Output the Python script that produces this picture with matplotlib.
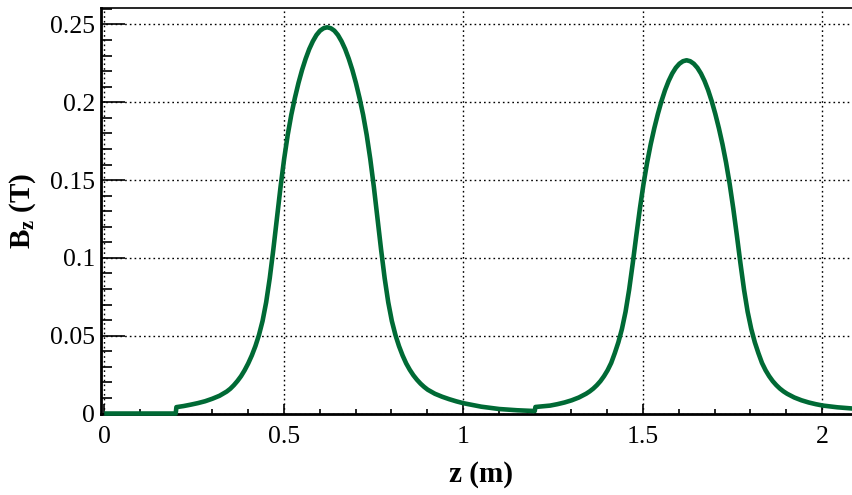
import matplotlib
matplotlib.use("Agg")
import matplotlib.pyplot as plt
from matplotlib.ticker import MultipleLocator

# Field profile: z in metres, Bz in tesla
# region before the first magnet (no field)
z_empty = [0.0, 0.199]
bz_empty = [0.0, 0.0]

# first magnet
z_mag1 = [0.201, 0.221, 0.241, 0.261, 0.281, 0.301, 0.321, 0.341, 0.351, 0.361,
          0.371, 0.381, 0.391, 0.401, 0.411, 0.421, 0.431, 0.441, 0.451, 0.461,
          0.471, 0.481, 0.491, 0.501, 0.511, 0.521, 0.531, 0.541, 0.551, 0.561,
          0.571, 0.581, 0.591, 0.601, 0.611, 0.621, 0.631, 0.641, 0.651, 0.661,
          0.671, 0.681, 0.691, 0.701, 0.711, 0.721, 0.731, 0.741, 0.751, 0.761,
          0.771, 0.781, 0.791, 0.801, 0.811, 0.821, 0.831, 0.841, 0.851, 0.861,
          0.871, 0.881, 0.891, 0.901, 0.921, 0.941, 0.961, 0.981, 1.001, 1.05,
          1.10, 1.15, 1.199]
bz_mag1 = [0.0041, 0.0048, 0.0057, 0.0067, 0.0079, 0.0095, 0.0114, 0.0141, 0.0159, 0.0182,
           0.0209, 0.0240, 0.0278, 0.0322, 0.0373, 0.0433, 0.0505, 0.0595, 0.0715, 0.0870,
           0.1055, 0.1257, 0.1455, 0.1635, 0.1790, 0.1920, 0.2028, 0.2124, 0.2208, 0.2280,
           0.2342, 0.2392, 0.2432, 0.2460, 0.2476, 0.2482, 0.2476, 0.2460, 0.2432, 0.2392,
           0.2342, 0.2280, 0.2208, 0.2124, 0.2028, 0.1920, 0.1790, 0.1635, 0.1455, 0.1257,
           0.1055, 0.0870, 0.0715, 0.0595, 0.0505, 0.0433, 0.0373, 0.0322, 0.0281, 0.0246,
           0.0217, 0.0192, 0.0171, 0.0153, 0.0127, 0.0108, 0.0092, 0.0078, 0.0066, 0.0044,
           0.0029, 0.0021, 0.0016]

# second magnet
z_mag2 = [1.201, 1.242, 1.262, 1.282, 1.302, 1.322, 1.342, 1.352, 1.362, 1.372,
          1.382, 1.392, 1.402, 1.412, 1.422, 1.432, 1.442, 1.452, 1.462, 1.472,
          1.482, 1.492, 1.502, 1.512, 1.522, 1.532, 1.542, 1.552, 1.562, 1.572,
          1.582, 1.592, 1.602, 1.612, 1.622, 1.632, 1.642, 1.652, 1.662, 1.672,
          1.682, 1.692, 1.702, 1.712, 1.722, 1.732, 1.742, 1.752, 1.762, 1.772,
          1.782, 1.792, 1.802, 1.812, 1.822, 1.832, 1.842, 1.852, 1.862, 1.872,
          1.882, 1.892, 1.902, 1.922, 1.942, 1.962, 1.982, 2.002, 2.042, 2.085]
bz_mag2 = [0.0042, 0.0051, 0.0060, 0.0071, 0.0085, 0.0103, 0.0127, 0.0142, 0.0160, 0.0182,
           0.0208, 0.0240, 0.0278, 0.0325, 0.0388, 0.0458, 0.0544, 0.0654, 0.0796, 0.0965,
           0.1145, 0.1318, 0.1475, 0.1612, 0.1730, 0.1833, 0.1925, 0.2007, 0.2078, 0.2137,
           0.2185, 0.2222, 0.2248, 0.2264, 0.2270, 0.2264, 0.2248, 0.2222, 0.2185, 0.2137,
           0.2078, 0.2007, 0.1925, 0.1833, 0.1730, 0.1612, 0.1475, 0.1318, 0.1145, 0.0965,
           0.0796, 0.0654, 0.0544, 0.0458, 0.0388, 0.0325, 0.0278, 0.0240, 0.0208, 0.0182,
           0.0160, 0.0142, 0.0127, 0.0103, 0.0085, 0.0071, 0.0060, 0.0051, 0.0040, 0.0032]

x_ticks = [0, 0.5, 1, 1.5, 2]
x_tick_labels = ["0", "0.5", "1", "1.5", "2"]
y_ticks = [0, 0.05, 0.1, 0.15, 0.2, 0.25]
y_tick_labels = ["0", "0.05", "0.1", "0.15", "0.2", "0.25"]

plt.rcParams["font.family"] = ["Liberation Serif", "DejaVu Serif"]
plt.rcParams["mathtext.fontset"] = "custom"
plt.rcParams["mathtext.rm"] = "Liberation Serif"
plt.rcParams["mathtext.bf"] = "Liberation Serif:bold"

z_all = z_empty + z_mag1 + z_mag2
bz_all = bz_empty + bz_mag1 + bz_mag2

fig = plt.figure(figsize=(8.53, 4.95), dpi=100)
ax = fig.add_axes([0.118, 0.1646, 0.882, 0.8202])

ax.plot(z_all, bz_all, color="#006a35", lw=3.3, clip_on=False,
        solid_joinstyle="round", solid_capstyle="butt", zorder=5)

ax.set_xlim(-0.01, 2.0855)
ax.set_ylim(0, 0.2609)

ax.set_xticks(x_ticks)
ax.set_xticklabels(x_tick_labels)
ax.set_yticks(y_ticks)
ax.set_yticklabels(y_tick_labels)
ax.xaxis.set_minor_locator(MultipleLocator(0.1))
ax.yaxis.set_minor_locator(MultipleLocator(0.01))

ax.grid(True, which="major", color="black", linestyle=(0, (1.2, 2.2)), lw=1.0)

# ROOT-like inward ticks on bottom and left only
ax.tick_params(axis="x", which="major", direction="in", length=7.2, width=1.2,
               labelsize=18.5, pad=9)
ax.tick_params(axis="x", which="minor", direction="in", length=3.6, width=1.2)
ax.tick_params(axis="y", which="major", direction="in", length=17.3, width=1.2,
               labelsize=18.5, pad=4)
ax.tick_params(axis="y", which="minor", direction="in", length=8, width=1.2)

for side in ["left", "bottom"]:
    ax.spines[side].set_linewidth(2)
ax.spines["top"].set_linewidth(1.2)
ax.spines["right"].set_visible(False)

# axis titles placed like the ROOT canvas
fig.text(0.564, 0.041, "z (m)", fontsize=21, fontweight="bold",
         ha="center", va="center")
fig.text(0.027, 0.575, r"$\mathbf{B_{z}}$ (T)", fontsize=21, fontweight="bold",
         rotation=90, ha="center", va="center")

fig.savefig("out.png", dpi=100)
